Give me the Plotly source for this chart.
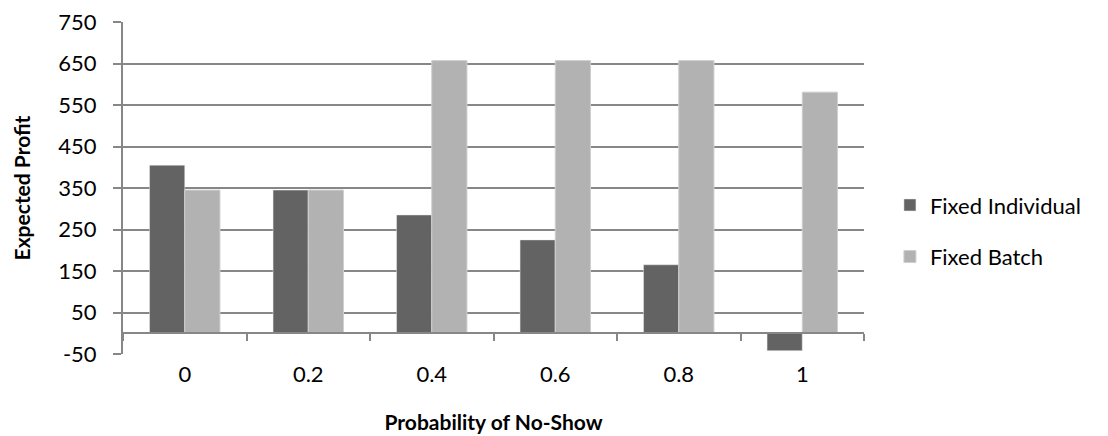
import plotly.graph_objects as go

categories = ["0", "0.2", "0.4", "0.6", "0.8", "1"]
fixed_individual = [405, 345, 285, 225, 165, -42]
fixed_batch = [345, 345, 657, 657, 657, 581]
y_ticks = [-50, 50, 150, 250, 350, 450, 550, 650, 750]
y_tick_text = ["-50", "50", "150", "250", "350", "450", "550", "650", "750"]

FONT = "Lato"
GRID = "#878787"

fig = go.Figure()
fig.add_trace(go.Bar(x=categories, y=fixed_individual, name="Fixed Individual",
                     marker=dict(color="#636363"), legendgroup="a"))
fig.add_trace(go.Bar(x=categories, y=fixed_batch, name="Fixed Batch",
                     marker=dict(color="#b2b2b2", line=dict(color="#cfcfcf", width=1)),
                     legendgroup="b"))
# invisible trace to host the zero-crossing category axis
fig.add_trace(go.Scatter(x=categories, y=[None]*len(categories), xaxis="x2",
                         showlegend=False, hoverinfo="skip", mode="markers"))

fig.update_layout(
    width=1108, height=436,
    margin=dict(l=123, r=244, t=22, b=82, autoexpand=False),
    plot_bgcolor="white", paper_bgcolor="white",
    font=dict(family=FONT, size=22, color="#000000"),
    barmode="group", bargap=0.43, bargroupgap=0,
    xaxis=dict(type="category", showline=False, ticks="", showgrid=False,
               automargin=False,
               tickfont=dict(size=22), ticklabelstandoff=5,
               range=[-0.5, len(categories) - 0.5],
               title=dict(text="<b>Probability of No-Show</b>", font=dict(size=21), standoff=29)),
    xaxis2=dict(type="category", overlaying="x", anchor="free",
                position=(0 - y_ticks[0]) / (y_ticks[-1] - y_ticks[0]),
                side="bottom", showline=True, linecolor=GRID, linewidth=2,
                showticklabels=False, ticks="outside", ticklen=7, tickwidth=2,
                tickcolor=GRID, tickson="boundaries", showgrid=False,
                automargin=False,
                range=[-0.5, len(categories) - 0.5]),
    yaxis=dict(range=[y_ticks[0], y_ticks[-1]], tickmode="array",
               tickvals=y_ticks, ticktext=y_tick_text,
               showgrid=True, gridcolor=GRID, gridwidth=2,
               showline=True, linecolor=GRID, linewidth=2,
               ticks="outside", ticklen=8, tickwidth=2, tickcolor=GRID,
               zeroline=False, tickfont=dict(size=22), ticklabelstandoff=12,
               automargin=False,
               title=dict(text="<b>Expected Profit</b>", font=dict(size=21), standoff=22)),
    legend=dict(x=1.035, y=0.37, xanchor="left", yanchor="middle",
                traceorder="grouped", tracegroupgap=20,
                font=dict(size=22), itemwidth=30),
    showlegend=True,
)

fig.write_html("out.html")
